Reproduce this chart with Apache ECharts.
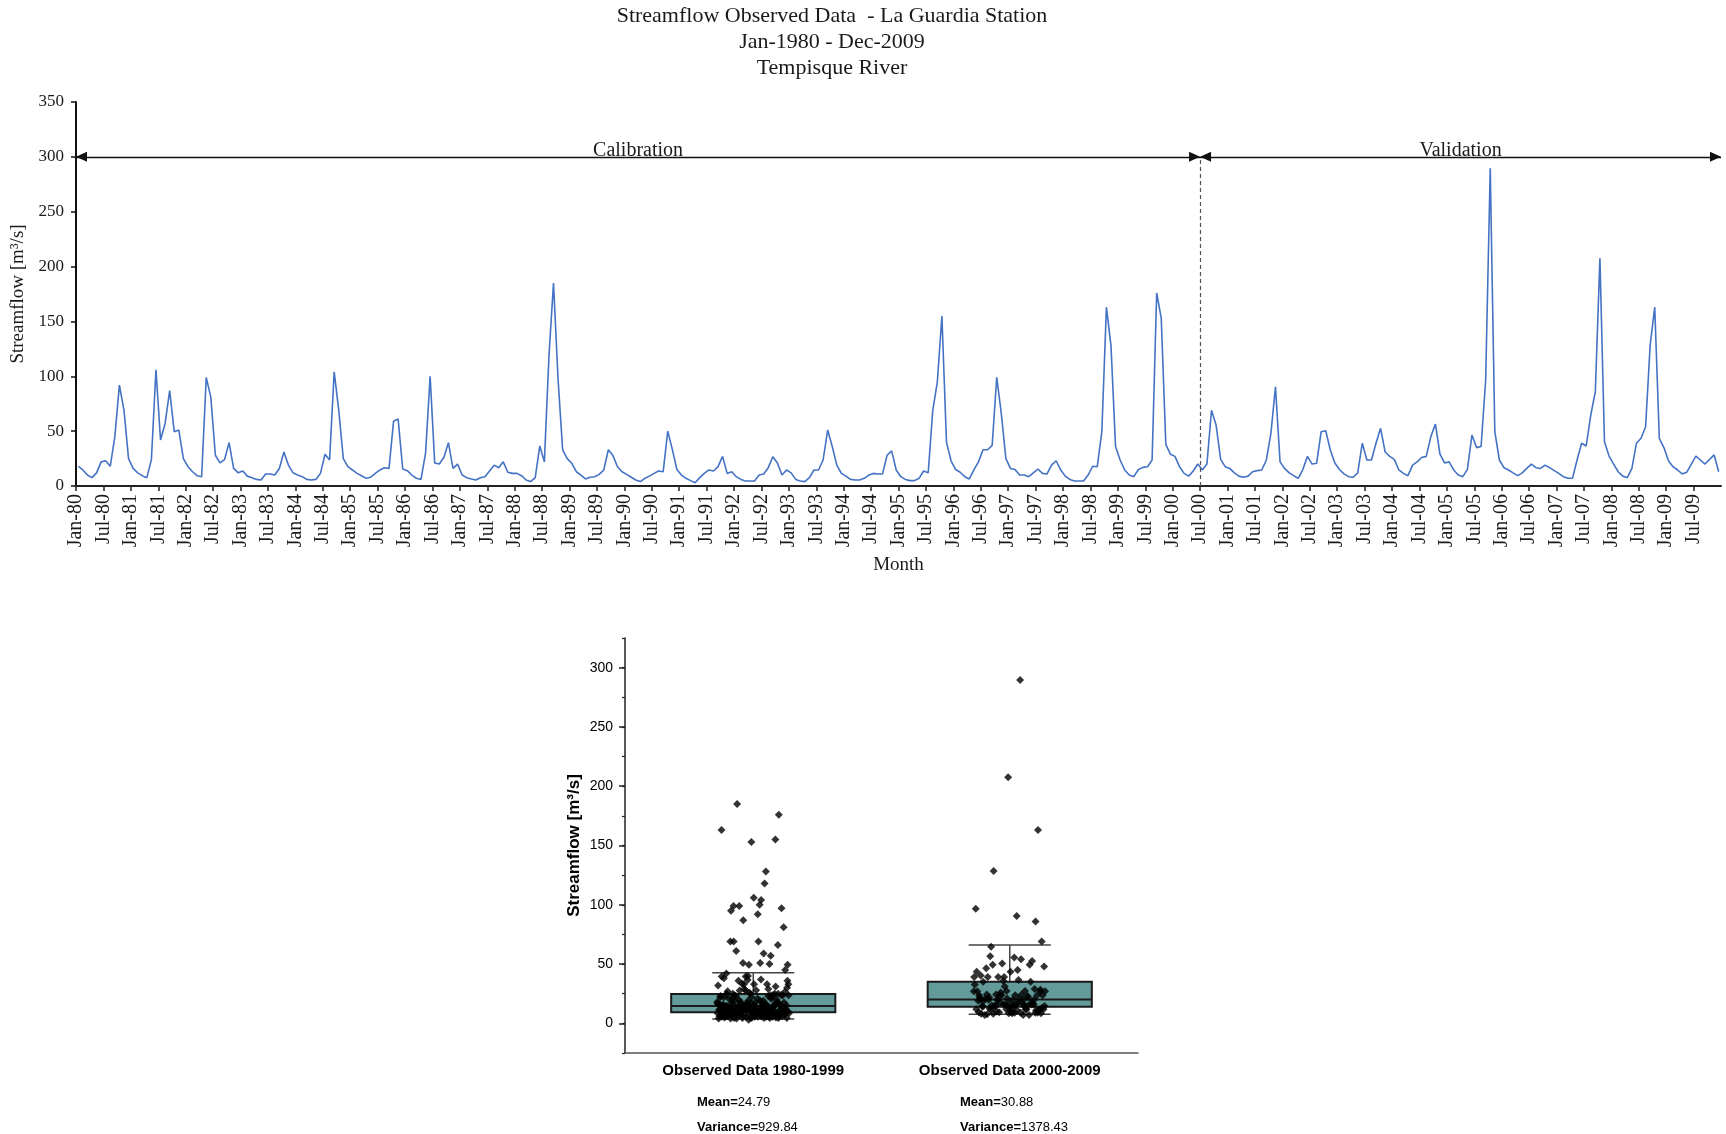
<!DOCTYPE html>
<html>
<head>
<meta charset="utf-8">
<title>Streamflow Observed Data - La Guardia Station</title>
<script src="https://cdn.jsdelivr.net/npm/echarts@6/dist/echarts.min.js"></script>
<style>
  html, body { margin: 0; padding: 0; background: #fff; }
  #main { width: 1726px; height: 1134px; }
</style>
</head>
<body>
<div id="main"></div>
<script>
const monthNames = ['Jan', 'Feb', 'Mar', 'Apr', 'May', 'Jun', 'Jul', 'Aug', 'Sep', 'Oct', 'Nov', 'Dec']
const firstYear = 1980
const lastYear = 2009

// monthly streamflow [m3/s]
const flow1980s = [
  18, 14.6, 10, 7.6, 12, 22, 23, 18, 45, 92, 69, 25,
  16, 12, 9.4, 7.6, 24, 106, 42, 57, 87, 49.5, 51, 25,
  17.6, 13, 9.4, 8.5, 99, 81, 28, 21, 24, 39.5, 16, 12,
  13.7, 9, 7.6, 6, 5.5, 11, 11, 10, 16, 31, 19, 12,
  10, 8.5, 6, 5.5, 6, 11.5, 29, 23.7, 104, 69, 25, 17.6,
  14.6, 11.5, 9.4, 7, 8, 11.5, 14.6, 16.7, 16, 59, 61, 15.5,
  14, 10, 7, 6, 30, 100, 21, 20, 26, 39.5, 16, 20,
  10, 7.6, 6.4, 5.5, 7.6, 8.5, 13.7, 19, 16.7, 22, 12.5, 11.5,
  11.5, 9.4, 5.5, 4, 7.6, 36.5, 22, 118, 185, 97, 33, 25,
  20.7, 13, 10, 6.4, 8, 8.5, 10.6, 14.6, 33, 27.7, 17.6, 13
]
const flow1990s = [
  10.6, 8, 5.5, 4, 7, 9, 11.5, 13.7, 13, 50, 33.4, 15,
  10, 7, 4.9, 3, 7.6, 11.5, 14.6, 13.7, 17.6, 27, 11.5, 13,
  8.5, 6, 4.6, 4.6, 4.6, 10, 11, 16.7, 26.7, 21, 10, 14.6,
  12, 6, 4.6, 4, 7.6, 14.6, 14.6, 23.7, 51, 36, 19, 11.5,
  9, 6, 5.5, 5.5, 7, 10, 11.5, 11, 11, 28, 32, 14.6,
  8.5, 6, 4.9, 4.9, 7, 13.7, 12, 69, 95, 155, 40, 23,
  15, 12.5, 8.5, 6.4, 14.6, 22, 33, 33, 37, 99, 66, 25,
  16, 15, 10, 10, 8.5, 12, 15.5, 11.5, 11, 19, 23, 14.6,
  9, 6, 4.6, 4.6, 4.6, 10, 18, 17.6, 49.5, 163, 128, 36,
  23.7, 14.6, 10, 8.5, 15, 17, 17.6, 23.7, 176, 153, 38, 29
]
const flow2000s = [
  27, 17.6, 11.5, 9, 13.7, 20, 14.6, 20, 69, 55.6, 24.3, 17.6,
  16, 12, 9, 8, 9, 13, 14, 14.6, 23.7, 48, 90.5, 22,
  16, 12, 9.4, 7, 15.2, 27, 20, 20.7, 49.5, 50.4, 32.8, 21,
  15, 11, 8.5, 8, 12, 39, 23.7, 23.7, 39, 52.6, 31, 27,
  24.3, 14.6, 11.5, 9.4, 19, 22, 26, 27, 45, 56.5, 29, 21,
  22, 14.6, 10, 8.5, 15.2, 46.5, 35, 36, 96.6, 289.6, 49.5, 23.7,
  16.7, 14.6, 12, 9.4, 12, 16, 20, 16.7, 16, 19, 16.7, 14,
  11.5, 8.5, 7, 7, 23.7, 39, 36.5, 64.7, 86, 207.5, 40.4, 27.3,
  20, 13, 9, 7.6, 16, 39, 43.5, 54, 128.5, 163, 43.5, 35,
  23, 17.6, 14.6, 11, 12.5, 20, 27.3, 23.7, 20, 24.3, 28.3, 13
]

const topYTicks = [0, 50, 100, 150, 200, 250, 300, 350]
const boxYTicks = [0, 50, 100, 150, 200, 250, 300]
const periodLevel = 300
const splitMonth = 'Jul-00'

const boxCategories = ['Observed Data 1980-1999', 'Observed Data 2000-2009']
// [lower whisker, Q1, median, Q3, upper whisker]
const boxStats = [
  [3.6, 9.3, 14.6, 24.7, 42.7],
  [7.6, 14.0, 20.2, 35.1, 66.0]
]
const meanLabels = ['24.79', '30.88']
const varianceLabels = ['929.84', '1378.43']

const flows = flow1980s.concat(flow1990s, flow2000s)
const monthLabels = []
for (let y = firstYear; y <= lastYear; y++) {
  for (const m of monthNames) monthLabels.push(m + '-' + String(y).slice(2))
}
const nMonths = monthLabels.length
const splitIndex = monthLabels.indexOf(splitMonth)
const groups = [flow1980s.concat(flow1990s), flow2000s]

const serif = 'Liberation Serif'
const sans = 'Liberation Sans'

// spread the dots sideways like the original, deterministic
const jitter = i => (((i * 0.6180339887) % 1) - 0.5) * 0.28

function renderBox(params, api) {
  const cx = api.value(0)
  const half = 0.32
  const capHalf = 0.16
  const p = k => api.value(k)
  const pt = (x, y) => api.coord([x, y])
  const lo = pt(cx, p(1))
  const q1 = pt(cx - half, p(2))
  const q3 = pt(cx + half, p(4))
  const med1 = pt(cx - half, p(3))
  const med2 = pt(cx + half, p(3))
  const hi = pt(cx, p(5))
  const q1c = pt(cx, p(2))
  const q3c = pt(cx, p(4))
  const capLoA = pt(cx - capHalf, p(1))
  const capLoB = pt(cx + capHalf, p(1))
  const capHiA = pt(cx - capHalf, p(5))
  const capHiB = pt(cx + capHalf, p(5))
  const wStyle = { stroke: '#444', lineWidth: 1.5 }
  return {
    type: 'group',
    children: [
      { type: 'line', shape: { x1: q3c[0], y1: q3c[1], x2: hi[0], y2: hi[1] }, style: wStyle },
      { type: 'line', shape: { x1: q1c[0], y1: q1c[1], x2: lo[0], y2: lo[1] }, style: wStyle },
      { type: 'line', shape: { x1: capHiA[0], y1: capHiA[1], x2: capHiB[0], y2: capHiB[1] }, style: wStyle },
      { type: 'line', shape: { x1: capLoA[0], y1: capLoA[1], x2: capLoB[0], y2: capLoB[1] }, style: wStyle },
      {
        type: 'rect',
        shape: { x: q1[0], y: q3[1], width: q3[0] - q1[0], height: q1[1] - q3[1] },
        style: { fill: '#629b99', stroke: '#1a1a1a', lineWidth: 2 }
      },
      { type: 'line', shape: { x1: med1[0], y1: med1[1], x2: med2[0], y2: med2[1] }, style: { stroke: '#1a1a1a', lineWidth: 2 } }
    ]
  }
}

function statText(k, row) {
  const label = row === 0 ? 'Mean=' : 'Variance='
  const value = row === 0 ? meanLabels[k] : varianceLabels[k]
  return {
    type: 'text',
    left: k === 0 ? 697 : 960,
    top: row === 0 ? 1096 : 1121,
    style: {
      text: '{b|' + label + '}{n|' + value + '}',
      rich: {
        b: { fontFamily: sans, fontSize: 13, fontWeight: 'bold', fill: '#000' },
        n: { fontFamily: sans, fontSize: 13, fill: '#000' }
      }
    }
  }
}

const option = {
  animation: false,
  backgroundColor: '#fff',
  title: {
    text: 'Streamflow Observed Data  - La Guardia Station\nJan-1980 - Dec-2009\nTempisque River',
    left: 827,
    top: -2,
    textAlign: 'center',
    textStyle: { fontFamily: serif, fontSize: 22, fontWeight: 'normal', color: '#1a1a1a', lineHeight: 26 }
  },
  grid: [
    { left: 76, top: 102, width: 1645, height: 384 },
    { left: 625, top: 638, width: 513, height: 415 }
  ],
  xAxis: [
    {
      type: 'value',
      gridIndex: 0,
      min: 0,
      max: nMonths,
      interval: 6,
      name: 'Month',
      nameLocation: 'middle',
      nameGap: 70,
      nameTextStyle: { fontFamily: serif, fontSize: 19, color: '#1a1a1a' },
      splitLine: { show: false },
      axisLine: { lineStyle: { color: '#222', width: 2 } },
      axisTick: { length: 5, lineStyle: { color: '#222', width: 1.5 } },
      axisLabel: {
        rotate: 90,
        margin: 8,
        fontFamily: serif,
        fontSize: 20,
        color: '#1a1a1a',
        showMaxLabel: false,
        formatter: v => monthLabels[v] || ''
      }
    },
    {
      type: 'category',
      gridIndex: 1,
      data: boxCategories,
      boundaryGap: true,
      axisLine: { onZero: false, lineStyle: { color: '#555', width: 1.5 } },
      axisTick: { alignWithLabel: true, length: 6, lineStyle: { color: '#333', width: 1.5 } },
      axisLabel: { margin: 10, fontFamily: sans, fontSize: 15, fontWeight: 'bold', color: '#000' }
    },
    {
      type: 'value',
      gridIndex: 1,
      min: 0,
      max: boxCategories.length,
      show: false
    }
  ],
  yAxis: [
    {
      type: 'value',
      gridIndex: 0,
      min: 0,
      max: topYTicks[topYTicks.length - 1],
      interval: topYTicks[1] - topYTicks[0],
      name: 'Streamflow [m³/s]',
      nameLocation: 'middle',
      nameGap: 43,
      nameTextStyle: { fontFamily: serif, fontSize: 19, color: '#1a1a1a' },
      splitLine: { show: false },
      axisLine: { show: true, lineStyle: { color: '#111', width: 2 } },
      axisTick: { show: true, length: 5, lineStyle: { color: '#111', width: 1.5 } },
      axisLabel: { margin: 12, fontFamily: serif, fontSize: 17, color: '#1a1a1a' }
    },
    {
      type: 'value',
      gridIndex: 1,
      position: 'left',
      min: -25,
      max: 325,
      interval: 25,
      name: 'Streamflow [m³/s]',
      nameLocation: 'middle',
      nameGap: 42,
      nameTextStyle: { fontFamily: sans, fontSize: 17, fontWeight: 'bold', color: '#000' },
      splitLine: { show: false },
      axisLine: { show: true, onZero: false, lineStyle: { color: '#222', width: 1.5 } },
      axisTick: { show: true, length: 6, customValues: boxYTicks, lineStyle: { color: '#222', width: 1.5 } },
      axisLabel: { margin: 12, fontFamily: sans, fontSize: 14, color: '#000', customValues: boxYTicks }
    },
    {
      type: 'value',
      gridIndex: 1,
      position: 'left',
      min: -25,
      max: 325,
      interval: 25,
      splitLine: { show: false },
      axisLine: { show: false, onZero: false },
      axisTick: { show: true, length: 3, lineStyle: { color: '#222', width: 1.2 } },
      axisLabel: { show: false }
    }
  ],
  series: [
    {
      type: 'line',
      xAxisIndex: 0,
      yAxisIndex: 0,
      data: flows.map((v, i) => [i + 0.5, v]),
      symbol: 'none',
      lineStyle: { color: '#4472c4', width: 1.6 },
      markLine: {
        silent: true,
        symbol: ['triangle', 'triangle'],
        symbolSize: [10, 11],
        // push each head back along the line so its tip sits on the end point
        symbolOffset: [[0, 5.5], [0, 5.5]],
        lineStyle: { color: '#111', width: 1.3, type: 'solid' },
        label: { show: true, position: 'middle', formatter: '{b}', distance: -4, fontFamily: serif, fontSize: 20, color: '#1a1a1a' },
        data: [
          [{ name: 'Calibration', coord: [0, periodLevel] }, { coord: [splitIndex, periodLevel] }],
          [{ name: 'Validation', coord: [splitIndex, periodLevel] }, { coord: [nMonths, periodLevel] }],
          [
            { coord: [splitIndex, 0], symbol: 'none', label: { show: false }, lineStyle: { type: [4, 3], color: '#555', width: 1.2 } },
            { coord: [splitIndex, periodLevel], symbol: 'none' }
          ]
        ]
      }
    },
    {
      type: 'custom',
      xAxisIndex: 2,
      yAxisIndex: 1,
      renderItem: renderBox,
      data: boxStats.map((s, k) => [k + 0.5].concat(s)),
      z: 2
    },
    {
      type: 'scatter',
      xAxisIndex: 2,
      yAxisIndex: 1,
      symbol: 'diamond',
      symbolSize: 8,
      itemStyle: { color: '#000' },
      data: groups.flatMap((g, k) => g.map((v, i) => [k + 0.5 + jitter(i), v])),
      z: 3
    }
  ],
  graphic: [statText(0, 0), statText(0, 1), statText(1, 0), statText(1, 1)]
}

const chart = echarts.init(document.getElementById('main'))
chart.setOption(option)
</script>
</body>
</html>
